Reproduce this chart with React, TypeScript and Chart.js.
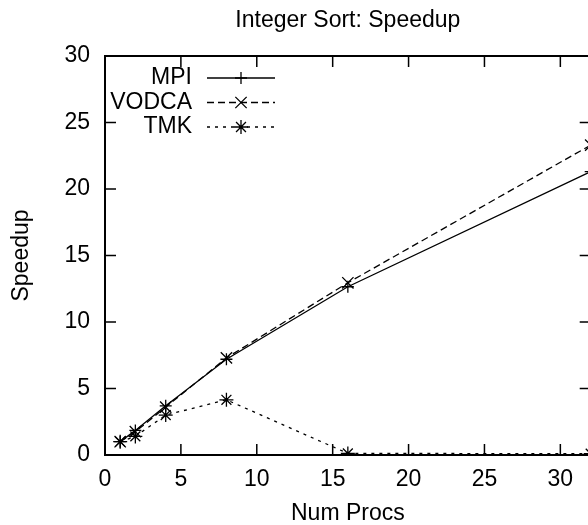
import React, { useEffect, useRef } from "react";
import { Chart, registerables } from "chart.js";

Chart.register(...registerables);

const title = "Integer Sort: Speedup";
const xTitle = "Num Procs";
const yTitle = "Speedup";
const procs = [1, 2, 4, 8, 16, 32];
const seriesNames = ["MPI", "VODCA", "TMK"];
const mpi = [1.0, 1.85, 3.7, 7.2, 12.65, 21.3];
const vodca = [1.0, 1.75, 3.6, 7.3, 12.95, 23.3];
const tmk = [1.0, 1.4, 3.0, 4.15, 0.12, 0.1];
const xTicksMin = 0;
const xTicksMax = 32;
const yTicksMin = 0;
const yTicksMax = 30;
const tickStep = 5;

const FONT = '"Liberation Sans", Arial, Helvetica, sans-serif';
const FS = 23;

const styles = [
  { dash: [] as number[], point: "cross", radius: 6 },
  { dash: [7, 4], point: "crossRot", radius: 8 },
  { dash: [3, 5], point: "star", radius: 7 },
];

function drawMarker(ctx: CanvasRenderingContext2D, kind: string, x: number, y: number, r: number) {
  ctx.beginPath();
  if (kind === "cross" || kind === "star") {
    ctx.moveTo(x - r, y);
    ctx.lineTo(x + r, y);
    ctx.moveTo(x, y - r);
    ctx.lineTo(x, y + r);
  }
  if (kind === "crossRot" || kind === "star") {
    const d = r * Math.SQRT1_2;
    ctx.moveTo(x - d, y - d);
    ctx.lineTo(x + d, y + d);
    ctx.moveTo(x - d, y + d);
    ctx.lineTo(x + d, y - d);
  }
  ctx.setLineDash([]);
  ctx.stroke();
}

const framePlugin = {
  id: "gnuframe",
  afterDraw(chart: any) {
    const { ctx, chartArea } = chart;
    const { left, right, top, bottom } = chartArea;
    const xs = chart.scales.x;
    const ys = chart.scales.y;
    ctx.save();
    ctx.strokeStyle = "#000";
    ctx.setLineDash([]);
    ctx.lineWidth = 1.5;
    const L = 11;
    ctx.beginPath();
    xs.ticks.forEach((t: any) => {
      const px = xs.getPixelForValue(t.value);
      ctx.moveTo(px, bottom);
      ctx.lineTo(px, bottom - L);
      ctx.moveTo(px, top);
      ctx.lineTo(px, top + L);
    });
    ys.ticks.forEach((t: any) => {
      const py = ys.getPixelForValue(t.value);
      ctx.moveTo(left, py);
      ctx.lineTo(left + L, py);
      ctx.moveTo(right, py);
      ctx.lineTo(right - L, py);
    });
    ctx.stroke();
    ctx.lineWidth = 2;
    ctx.strokeRect(left, top, right - left, bottom - top);

    // legend
    ctx.font = `${FS}px ${FONT}`;
    ctx.fillStyle = "#000";
    ctx.textAlign = "right";
    ctx.textBaseline = "middle";
    chart.data.datasets.forEach((ds: any, i: number) => {
      const ly = top + 22 + i * 24.5;
      ctx.fillText(ds.label, left + 87, ly);
      ctx.lineWidth = 1.3;
      ctx.setLineDash(styles[i].dash);
      ctx.beginPath();
      ctx.moveTo(left + 102, ly);
      ctx.lineTo(left + 170, ly);
      ctx.stroke();
      drawMarker(ctx, styles[i].point, left + 136, ly, styles[i].radius);
    });
    ctx.restore();
  },
};

export default function App() {
  const ref = useRef<HTMLCanvasElement | null>(null);
  useEffect(() => {
    if (!ref.current) return;
    Chart.defaults.color = "#000";
    Chart.defaults.font.family = FONT;
    const values = [mpi, vodca, tmk];
    const chart = new Chart(ref.current, {
      type: "line",
      data: {
        datasets: seriesNames.map((name, i) => ({
          label: name,
          data: procs.map((p, j) => ({ x: p, y: values[i][j] })),
          borderColor: "#000",
          backgroundColor: "#000",
          borderWidth: 1.3,
          borderDash: styles[i].dash,
          pointStyle: styles[i].point as any,
          pointRadius: styles[i].radius,
          pointHoverRadius: styles[i].radius,
          pointBorderColor: "#000",
          pointBorderWidth: 1.3,
          tension: 0,
          fill: false,
        })),
      },
      options: {
        responsive: false,
        animation: false,
        devicePixelRatio: 1,
        layout: { padding: { left: 0, right: 9, top: 0, bottom: 0 } },
        plugins: {
          legend: { display: false },
          tooltip: { enabled: false },
          title: {
            display: true,
            text: title,
            fullSize: false,
            color: "#000",
            font: { size: FS, weight: "normal", family: FONT, lineHeight: 1.2 },
            padding: { top: 6.4, bottom: 22 },
          },
        },
        scales: {
          x: {
            type: "linear",
            min: xTicksMin,
            max: xTicksMax,
            grid: { display: false, drawTicks: false },
            border: { display: false },
            ticks: {
              stepSize: tickStep,
              includeBounds: false,
              padding: 11,
              maxRotation: 0,
              color: "#000",
              font: { size: FS, family: FONT, lineHeight: 1.2 },
            },
            title: {
              display: true,
              text: xTitle,
              color: "#000",
              font: { size: FS, family: FONT, lineHeight: 1 },
              padding: { top: 0, bottom: -0.5 },
            },
            afterFit: (s: any) => {
              s.height = 70;
            },
          },
          y: {
            type: "linear",
            min: yTicksMin,
            max: yTicksMax,
            grid: { display: false, drawTicks: false },
            border: { display: false },
            ticks: {
              stepSize: tickStep,
              padding: 15,
              color: "#000",
              font: { size: FS, family: FONT, lineHeight: 1.2 },
            },
            title: {
              display: true,
              text: yTitle,
              color: "#000",
              font: { size: FS, family: FONT, lineHeight: 1 },
              padding: { top: 10.5, bottom: 0 },
            },
            afterFit: (s: any) => {
              s.width = 105;
            },
          },
        },
      },
      plugins: [framePlugin],
    });
    return () => chart.destroy();
  }, []);
  return (
    <div
      style={{
        position: "fixed",
        left: 0,
        top: 0,
        width: 588,
        height: 525,
        overflow: "hidden",
        background: "#fff",
      }}
    >
      <canvas ref={ref} width={600} height={525} style={{ display: "block", width: 600, height: 525 }} />
    </div>
  );
}
